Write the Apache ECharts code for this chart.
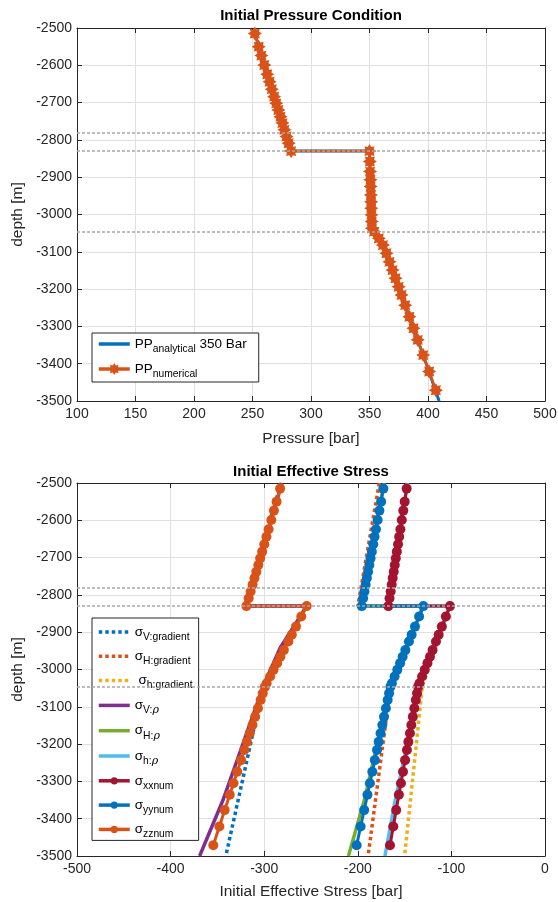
<!DOCTYPE html>
<html><head><meta charset="utf-8">
<script src="https://cdn.jsdelivr.net/npm/echarts@6/dist/echarts.min.js"></script>
<style>html,body{margin:0;padding:0;background:#fff}#c{width:558px;height:902px}</style>
</head><body><div id="c"></div>
<script>
// ---------- DATA ----------
const depthNum = [-2515,-2550,-2574,-2599,-2624,-2644,-2664,-2684,-2702,-2720,-2738,-2755,-2773,-2791,-2809,-2830,
  -2830,-2858,-2885,-2907,-2925,-2948,-2966,-2983,-3001,-3019,-3037,
  -3046,-3064,-3082,-3104,-3127,-3149,-3171,-3194,-3216,-3243,-3274,-3305,-3336,-3377,-3421,-3471];
const ppNumerical = [252.0,255.3,257.6,260.1,262.6,264.6,266.5,268.5,270.3,272.1,273.9,275.6,277.3,279.1,280.9,283.0,
  350.0,350.3,350.5,350.8,351.0,351.2,351.4,351.5,351.7,351.9,352.1,
  354.0,358.0,361.5,364.5,367.1,369.7,372.2,374.9,377.4,380.5,384.1,387.6,391.2,395.9,401.0,406.7];
const depthAnalytical = [-2515,-2830,-2830,-3040,-3046,-3064,-3082,-3104,-3200,-3300,-3400,-3500];
const ppAnalytical = [252.0,283.0,350.0,352.0,354.0,358.0,361.5,364.5,375.5,387.0,398.5,409.5];
const refDepths = [-2780,-2830,-3045];

const sigmaXX = [-147.8,-149.9,-151.4,-153.0,-154.5,-155.8,-157.0,-158.3,-159.4,-160.5,-161.6,-162.7,-163.8,-164.9,-166.1,-167.4,
  -101.5,-105.9,-110.2,-113.6,-116.5,-120.1,-122.9,-125.6,-128.5,-131.3,-134.1,
  -135.5,-136.7,-138.0,-139.6,-141.2,-142.8,-144.3,-146.0,-147.5,-149.5,-151.7,-153.9,-156.1,-159.0,-162.1,-165.6];
const sigmaYY = [-172.7,-175.1,-176.9,-178.8,-180.6,-182.1,-183.5,-185.0,-186.4,-187.7,-189.0,-190.3,-191.6,-192.9,-194.3,-195.8,
  -130.0,-134.5,-138.9,-142.5,-145.4,-149.2,-152.1,-154.8,-157.8,-160.7,-163.6,
  -165.1,-166.6,-168.1,-170.0,-172.0,-173.8,-175.7,-177.7,-179.5,-181.8,-184.5,-187.1,-189.7,-193.2,-197.0,-201.2];
const sigmaZZ = [-283.0,-286.8,-289.6,-292.4,-295.3,-297.6,-299.9,-302.2,-304.3,-306.3,-308.4,-310.4,-312.4,-314.5,-316.6,-319.0,
  -254.6,-260.4,-266.0,-270.5,-274.2,-279.0,-282.7,-286.2,-290.0,-293.7,-297.4,
  -299.1,-301.5,-303.8,-306.7,-309.7,-312.5,-315.4,-318.4,-321.2,-324.7,-328.8,-332.8,-336.8,-342.2,-347.9,-354.4];

const depthGrad = [-2500,-2830,-2830,-3045,-3500];
const sigmaVgrad = [-282,-321,-255,-301,-341];
const sigmaHgrad = [-177,-200,-130,-165,-189];
const sigmahgrad = [-147,-168,-102,-131,-150];

const depthRho = [-2500,-2830,-2830,-2942,-3045,-3350,-3500];
const sigmaVrho = [-281,-319,-254.6,-283,-301,-344,-369];
const sigmaHrho = [-172,-196,-130,-148.2,-165,-193,-210];
const sigmahrho = [-147,-167.4,-101.5,-118.4,-134,-160,-171];

const pressureTicks = {min:100, max:500, interval:50};
const stressTicks = {min:-500, max:0, interval:100};
const depthTicks = {min:-3500, max:-2500, interval:100};

// ---------- CHART ----------
const F = "'Liberation Sans', Arial, Helvetica, sans-serif";
const C = {blue:'#0072BD', orange:'#D95319', yellow:'#EDB120', purple:'#7E2F8E', green:'#77AC30', lblue:'#4DBEEE', red:'#A2142F'};
const pairs = (xs, ys) => xs.map((x, i) => [x, ys[i]]);
const asterisk = 'path://M10,0L6,2.49L7.07,7.07L2.49,6L0,10L-2.49,6L-7.07,7.07L-6,2.49L-10,0L-6,-2.49L-7.07,-7.07L-2.49,-6L0,-10L2.49,-6L7.07,-7.07L6,-2.49Z';
const AX = '#262626';
const plain = v => String(v);

function xAx(grid, t, pos, name, gap) {
  const main = pos === 'bottom';
  return {gridIndex:grid, type:'value', position:pos, min:t.min, max:t.max, interval:t.interval,
    name: main ? name : '', nameLocation:'middle', nameGap:gap,
    nameTextStyle:{fontSize:15.5, color:AX, fontFamily:F},
    axisLine:{show:true, onZero:false, lineStyle:{color:AX, width:1}},
    axisTick:{show:true, inside:true, length:5, lineStyle:{color:AX}},
    axisLabel:{show:main, fontSize:14, color:AX, fontFamily:F, margin:6, formatter:plain},
    splitLine:{show:main, lineStyle:{color:'#e0e0e0', width:1}}};
}
function yAx(grid, pos) {
  const main = pos === 'left';
  return {gridIndex:grid, type:'value', position:pos, min:depthTicks.min, max:depthTicks.max, interval:depthTicks.interval,
    name: main ? 'depth [m]' : '', nameLocation:'middle', nameGap:43, nameRotate:90,
    nameTextStyle:{fontSize:15.5, color:AX, fontFamily:F},
    axisLine:{show:true, onZero:false, lineStyle:{color:AX, width:1}},
    axisTick:{show:true, inside:true, length:5, lineStyle:{color:AX}},
    axisLabel:{show:main, fontSize:14, color:AX, fontFamily:F, margin:5, formatter:plain},
    splitLine:{show:main, lineStyle:{color:'#e0e0e0', width:1}}};
}

const refMark = {silent:true, symbol:'none', label:{show:false}, z:10,
  lineStyle:{color:'#a8a8a8', type:[3,2], width:1.6},
  data: refDepths.map(d => ({yAxis:d}))};

const labels = {
  'PP analytical':'{m|PP}{sub|analytical}{m| 350 Bar}',
  'PP numerical':'{m|PP}{sub|numerical}',
  'sV gradient':'{s|σ}{sub|V:gradient}',
  'sH gradient':'{s|σ}{sub|H:gradient}',
  'sh gradient':'{s| σ}{sub|h:gradient}',
  'sV rho':'{s|σ}{sub|V:}{rho|ρ}',
  'sH rho':'{s|σ}{sub|H:}{rho|ρ}',
  'sh rho':'{s|σ}{sub|h:}{rho|ρ}',
  'sxx num':'{s|σ}{sub|xxnum}',
  'syy num':'{s|σ}{sub|yynum}',
  'szz num':'{s|σ}{sub|zznum}'
};
const rich = {
  m:{fontSize:13.5, lineHeight:14, verticalAlign:'top', fontFamily:F, color:'#000'},
  s:{fontSize:13.5, lineHeight:14, verticalAlign:'top', fontFamily:F, color:'#000'},
  sub:{fontSize:10.3, lineHeight:10, padding:[10,0,0,0], fontFamily:F, color:'#000'},
  rho:{fontSize:11, lineHeight:10, padding:[10,0,0,0], fontFamily:"'DejaVu Serif', serif", fontStyle:'italic', color:'#000'}
};
function legend(data, top, gap, itemH, pad) {
  return {data, orient:'vertical', left:92, top, padding:pad, itemGap:gap, itemWidth:31, itemHeight:itemH,
    borderColor:AX, borderWidth:1, backgroundColor:'#fff', borderRadius:0, selectedMode:false,
    lineStyle:{width:3.5}, formatter: n => labels[n],
    textStyle:{fontFamily:F, fontSize:13.5, color:'#000', rich}};
}

// line-only series: symbol kept invisible so the legend shows a bare line
function plainLine(name, xs, ys, color, width, type, xi) {
  return {name, type:'line', xAxisIndex:xi, yAxisIndex:xi, data:pairs(xs, ys), symbol:'circle', showSymbol:false,
    lineStyle:{color, width, type}, itemStyle:{color, opacity:0}};
}
function numer(name, xs, color, extra) {
  return Object.assign({name, type:'line', xAxisIndex:1, yAxisIndex:1, data:pairs(xs, depthNum), symbol:'circle', symbolSize:10,
    showSymbol:true, showAllSymbol:true, lineStyle:{color, width:3}, itemStyle:{color}}, extra || {});
}
const DOT = [3.5,3];

const option = {
  animation:false,
  backgroundColor:'#fff',
  textStyle:{fontFamily:F},
  grid:[
    {left:77, top:28, width:468, height:373, outerBoundsMode:'none', containLabel:false},
    {left:77, top:483, width:468, height:373, outerBoundsMode:'none', containLabel:false}
  ],
  xAxis:[
    xAx(0, pressureTicks, 'bottom', 'Pressure [bar]', 30),
    xAx(1, stressTicks, 'bottom', 'Initial Effective Stress [bar]', 28),
    xAx(0, pressureTicks, 'top'),
    xAx(1, stressTicks, 'top')
  ],
  yAxis:[yAx(0,'left'), yAx(1,'left'), yAx(0,'right'), yAx(1,'right')],
  legend:[
    legend(['PP analytical','PP numerical'], 333, 5, 15, [1,12,3,5]),
    legend(['sV gradient','sH gradient','sh gradient','sV rho','sH rho','sh rho','sxx num','syy num','szz num'], 618, 4.3, 9, [4,6,1,5])
  ],
  graphic:[
    {type:'text', x:311, y:16, style:{text:'Initial Pressure Condition', font:'bold 15px '+F, fill:'#000', align:'center', verticalAlign:'middle'}},
    {type:'text', x:311, y:472, style:{text:'Initial Effective Stress', font:'bold 15px '+F, fill:'#000', align:'center', verticalAlign:'middle'}}
  ],
  series:[
    plainLine('PP analytical', ppAnalytical, depthAnalytical, C.blue, 3, 'solid', 0),
    {name:'PP numerical', type:'line', xAxisIndex:0, yAxisIndex:0, data:pairs(ppNumerical, depthNum), symbol:asterisk, symbolSize:14,
      showSymbol:true, showAllSymbol:true, lineStyle:{color:C.orange, width:2.5}, itemStyle:{color:C.orange}, markLine:refMark},
    plainLine('sV gradient', sigmaVgrad, depthGrad, C.blue, 3.5, DOT, 1),
    plainLine('sH gradient', sigmaHgrad, depthGrad, C.orange, 3.5, DOT, 1),
    plainLine('sh gradient', sigmahgrad, depthGrad, C.yellow, 3.5, DOT, 1),
    plainLine('sV rho', sigmaVrho, depthRho, C.purple, 3.5, 'solid', 1),
    plainLine('sH rho', sigmaHrho, depthRho, C.green, 3.5, 'solid', 1),
    plainLine('sh rho', sigmahrho, depthRho, C.lblue, 3.5, 'solid', 1),
    numer('sxx num', sigmaXX, C.red),
    numer('syy num', sigmaYY, C.blue),
    numer('szz num', sigmaZZ, C.orange, {markLine:refMark})
  ]
};
const chart = echarts.init(document.getElementById('c'), null, {renderer:'canvas'});
chart.setOption(option);
</script></body></html>
